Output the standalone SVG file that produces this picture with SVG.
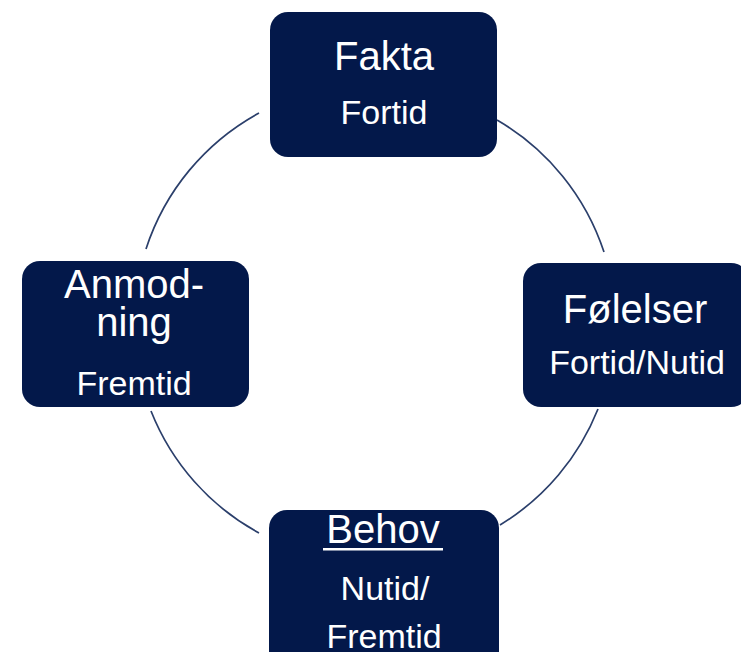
<svg xmlns="http://www.w3.org/2000/svg" width="741" height="652" viewBox="0 0 741 652">
  <style>
    .box { fill: #03184a; }
    .ring { fill: none; stroke: #2b3f6b; stroke-width: 1.7; }
    text { font-family: "Liberation Sans", Arial, sans-serif; fill: #ffffff; text-anchor: middle; }
    .big { font-size: 40px; }
    .small { font-size: 34px; }
  </style>
  <rect width="741" height="652" fill="#ffffff"/>

  <!-- circular connectors between the four steps -->
  <g id="connectors">
    <path class="ring" d="M497,120 A239,239 0 0 1 604,252"/>
    <path class="ring" d="M598,409 A239,239 0 0 1 500,525"/>
    <path class="ring" d="M259,533 A239,239 0 0 1 151,411"/>
    <path class="ring" d="M146,249 A239,239 0 0 1 259,113"/>
  </g>

  <g id="fakta">
    <rect class="box" x="270" y="12" width="227" height="145" rx="18"/>
    <text class="big" x="384" y="70">Fakta</text>
    <text class="small" x="384" y="124">Fortid</text>
  </g>

  <g id="folelser">
    <rect class="box" x="523" y="263" width="226" height="144" rx="18"/>
    <text class="big" x="635" y="323">Følelser</text>
    <text class="small" x="637" y="374">Fortid/Nutid</text>
  </g>

  <g id="behov">
    <rect class="box" x="269" y="510" width="230" height="160" rx="18"/>
    <text class="big" x="383" y="543">Behov</text>
    <rect x="323" y="548" width="120" height="2.5" fill="#ffffff"/>
    <text class="small" x="385" y="600">Nutid/</text>
    <text class="small" x="384" y="648">Fremtid</text>
  </g>

  <g id="anmodning">
    <rect class="box" x="22" y="261" width="227" height="146" rx="18"/>
    <text class="big" x="134" y="298">Anmod-</text>
    <text class="big" x="134" y="336">ning</text>
    <text class="small" x="134" y="395">Fremtid</text>
  </g>
</svg>
